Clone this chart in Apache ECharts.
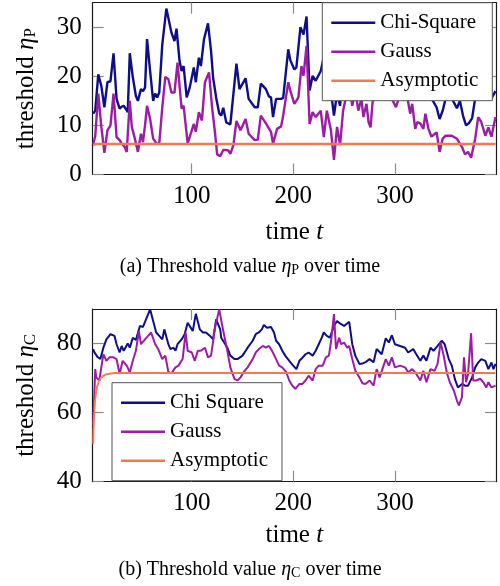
<!DOCTYPE html>
<html><head><meta charset="utf-8">
<script src="https://cdn.jsdelivr.net/npm/echarts@6/dist/echarts.min.js"></script>
<style>html,body{margin:0;padding:0;background:#fff}#c{width:500px;height:586px}</style>
</head><body><div id="c"></div>
<script>
// ---------- data (t, value) ----------
const chiSquareP = [[3,12.4],[5,13],[8,20.4],[11,18],[14,13.7],[17,18.8],[20,19],[23,24.7],[26,15.4],[29,13.4],[31,13.8],[33,14],[35,13.4],[37,12.7],[39,24.7],[42,19.8],[45,16],[47,15],[50,17.4],[52,17],[54,17.7],[56,27.6],[59,21.1],[62,15],[64,16.5],[66,15.7],[68,16.7],[71,26.5],[75,33.8],[77,31.9],[80,28.9],[83,27.2],[85,29.7],[88,23.1],[90,21.1],[92,22.1],[95,15.7],[98,17.7],[102,21.8],[104,18.8],[107,23.8],[109,22.1],[112,27.5],[116,30.8],[119,25.2],[121,19.8],[124,15.7],[127,12.5],[129,12],[131,13.6],[134,10.6],[138,10.2],[144,22.6],[147,17.4],[153,19.6],[156,15.4],[162,13.7],[165,13.7],[168,18.5],[173,17.4],[176,15.9],[178,15.7],[180,11.7],[183,15.4],[188,15.4],[190,15.6],[195,25.5],[197,23.3],[201,21.4],[203,21.8],[207,30],[210,28.5],[213,32.2],[216,17.1],[219,20.1],[222,19.1],[227,21.1],[230,24],[233,25],[237,17],[240,12],[243,16.5],[246,14],[249,21],[252,24],[255,27],[258,22],[261,25],[264,21],[267,23],[269,19],[272,22],[274,18],[276,17],[278,22],[281,25],[284,27],[287,24],[290,29],[293,26],[296,24],[299,22],[301,21],[304,22.5],[306,27],[309,25],[312,23.5],[315,20],[318,22],[320,17],[322,18.5],[325,18],[328,17],[331,19.5],[333,17],[336,15.5],[341,13.7],[344,11.3],[347,13],[349,14.7],[352,17],[356,15.5],[361,13.5],[364,15],[367,12],[370,10],[373,10.5],[376,11.5],[379,15.5],[382,19],[385,18],[389,16],[392,17],[395,15.5],[399,17]];
const gaussP = [[3,6.2],[5,7.8],[8,16.5],[11,9.7],[14,4.4],[17,9],[20,10],[23,16.5],[26,7.6],[29,7],[31,6.3],[34,5.6],[36,4.6],[39,15],[41,9.7],[44,7.3],[47,4.6],[50,8.3],[52,6.6],[54,10],[56,14],[59,11.3],[62,7.3],[65,6.4],[68,6.3],[71,13.7],[74,19.9],[77,19.4],[80,16.7],[83,16.7],[86,22.8],[90,13.4],[92,14],[96,6.3],[99,8.3],[102,10.3],[104,8.7],[107,12.7],[110,11],[113,18.8],[117,20.8],[120,13.7],[123,8.3],[125,4.1],[128,3.7],[131,5],[133,5],[136,4.9],[138,4.2],[141,6],[144,10.9],[148,9],[153,11.3],[156,8.3],[162,7],[165,7.1],[168,12],[173,10.4],[178,8.7],[180,6.3],[184,9.3],[188,9.8],[190,12],[195,18.8],[197,17.1],[201,14.4],[205,15.7],[208,22.1],[210,20.1],[213,26.2],[216,10.3],[219,12.7],[222,11.7],[227,13],[230,7.6],[233,13],[237,9],[240,3],[243,9.7],[246,6],[249,13],[252,16],[255,18.5],[258,14],[261,17],[264,13],[267,15.5],[269,11.7],[272,14.4],[274,10.7],[276,9.6],[278,14.7],[281,17],[284,19.5],[287,16],[290,21],[293,18],[296,16.5],[298,15],[301,13.7],[303,15],[306,19],[309,17.5],[312,16],[315,12.4],[317,14.4],[320,9.3],[322,10.7],[325,10.4],[328,9.3],[330,12.4],[333,9.3],[336,7.7],[341,8.6],[344,4.6],[347,7.3],[350,7.9],[356,7.9],[361,7.3],[366,5.6],[369,4.1],[372,4.6],[375,3.4],[379,7.3],[382,11.7],[385,10.7],[389,7.9],[392,9.6],[395,7.7],[399,11.7]];
const asymptoticP = [[3,5.9],[5,6.2],[399,6.2]];

const chiSquareC = [[3,78.4],[4,77.5],[7,76.2],[10,75.5],[13,78.8],[16,81.2],[20,82.7],[24,82.2],[26,79.8],[29,77.4],[31,79.3],[33,77.9],[37,80],[39,78.8],[42,81.7],[45,81],[49,85.1],[52,84.8],[55,87],[59,89.9],[62,86.5],[65,83.2],[68,82.2],[71,81.2],[73,84.1],[77,79.8],[79,78.4],[82,78.8],[84,77.9],[86,79.8],[90,81.2],[93,82.7],[96,86],[98,85.1],[101,83.6],[104,88.6],[108,84.1],[111,83.2],[114,83.2],[118,82.2],[121,81.2],[124,87],[128,84.1],[129,81.7],[133,79.8],[135,78.8],[138,76.5],[142,75.5],[145,75.5],[150,76.5],[155,78.8],[160,80.8],[163,82.7],[166,83.2],[169,84.1],[171,85.4],[174,84.6],[178,84.8],[181,83.2],[183,80.8],[186,79.8],[189,78],[192,76.5],[196,75],[199,73.9],[203,72.6],[206,75],[209,75.9],[212,76.9],[215,77.4],[219,76.5],[222,77.9],[225,79.8],[228,81.7],[230,83.2],[233,82.2],[236,81.7],[240,85.1],[243,86.5],[247,85.6],[250,85.1],[255,86.3],[258,79.8],[261,76.5],[265,74.1],[268,74.2],[271,74.6],[275,75.5],[279,74.6],[282,78.4],[287,76.9],[291,81.5],[294,80.3],[297,82.4],[300,79.8],[305,79.3],[310,78.8],[313,77.4],[318,78.4],[321,76.9],[325,75],[328,76.5],[331,75],[335,78.8],[338,77.9],[342,79.3],[346,80.8],[349,79.8],[353,75.5],[356,73.6],[359,69.7],[362,67.3],[366,68.3],[369,67.8],[372,67.8],[376,70.2],[379,73.1],[382,74.5],[385,75.5],[389,75],[392,72.6],[395,74.5],[397,72.6],[399,74.1]];
const gaussC = [[3,56.5],[5,72.6],[6,70.2],[9,69.3],[13,76.9],[16,75],[19,76],[23,76],[26,75.5],[29,71.2],[32,75],[36,73.6],[39,71.7],[42,75],[45,77.9],[48,83.6],[50,79.8],[54,81.2],[57,82.2],[60,83.2],[64,79.8],[67,78.4],[71,75.5],[74,76.5],[77,71.7],[80,71.4],[84,73.1],[87,73.6],[91,75.5],[94,83.2],[96,77.9],[100,77.4],[103,75],[106,77.9],[109,77.9],[113,78.8],[116,76],[119,76.5],[123,84.6],[127,89.9],[131,83.7],[135,77.9],[138,73.1],[142,69.8],[145,69.3],[148,70.2],[152,72.1],[155,73.1],[160,75.5],[163,77.4],[166,78.4],[170,79.3],[173,78.8],[176,79.3],[179,77.9],[183,75.5],[186,73.6],[189,73.1],[193,71.7],[196,69.3],[199,67.8],[202,66.9],[206,68.3],[209,68.3],[212,69.3],[215,70.7],[219,69.3],[222,72.6],[225,73.6],[229,73.6],[232,76],[235,76.5],[237,80.3],[240,88.5],[242,78.4],[245,81.7],[247,79.8],[250,80.3],[253,78.8],[255,79.3],[258,75.5],[261,72.1],[265,70.2],[268,68.5],[271,68.3],[275,69.3],[279,67.8],[282,72.6],[285,70.2],[291,75.5],[294,73.6],[297,76],[300,73.1],[305,73.6],[310,73.1],[313,71.7],[317,72.6],[321,71.2],[325,69.3],[328,72.1],[331,68.8],[335,72.6],[339,72.1],[342,74.1],[345,80.3],[348,76.5],[351,71.7],[354,68.8],[358,66.4],[361,63.5],[363,62.1],[366,64.5],[368,76],[370,68.8],[372,71.2],[375,83],[377,69.3],[380,69.3],[384,69.8],[387,68.8],[390,67.3],[392,68.8],[395,67.3],[399,67.8]];
const asymptoticC = [[3,51],[4,60.5],[5,64],[6,66.4],[7,67.8],[9,69.3],[11,70.2],[13,70.7],[16,71.1],[20,71.3],[25,71.5],[399,71.5]];

const xTicks = [100, 200, 300];
const yTicksP = [0, 10, 20, 30];
const yTicksC = [40, 60, 80];
const legendP = ['Chi-Square', 'Gauss', 'Asymptotic'];
const legendC = ['Chi Square', 'Gauss', 'Asymptotic'];

// ---------- styling ----------
const FONT = 'Liberation Serif';
const C_CHI = '#0e0e8a', C_GAUSS = '#9c1ca6', C_ASYM = '#f27a50';
const AXIS_COLOR = '#1a1a1a', TICK_COLOR = '#8c8c8c';

const richSub = {
  it: { fontStyle: 'italic', fontSize: 25, fontFamily: FONT, color: '#000', lineHeight: 25 },
  sub: { fontSize: 17, fontFamily: FONT, color: '#000', lineHeight: 8, verticalAlign: 'bottom' }
};

function xAxes(grid, name, nameGap) {
  return [
    { gridIndex: grid, type: 'value', position: 'bottom', min: 2.5, max: 399.5,
      axisLine: { show: true, onZero: false, lineStyle: { color: AXIS_COLOR, width: 1.2 } },
      axisTick: { show: true, inside: true, length: 11, customValues: xTicks, lineStyle: { color: TICK_COLOR, width: 1.2 } },
      axisLabel: { customValues: xTicks, fontSize: 25, fontFamily: FONT, color: '#000', margin: 9 },
      splitLine: { show: false },
      name: name, nameLocation: 'middle', nameGap: nameGap,
      nameTextStyle: { fontSize: 25, fontFamily: FONT, color: '#000', lineHeight: 25, rich: richSub } },
    { gridIndex: grid, type: 'value', position: 'top', min: 2.5, max: 399.5,
      axisLine: { show: true, onZero: false, lineStyle: { color: AXIS_COLOR, width: 1.2 } },
      axisTick: { show: true, inside: true, length: 11, customValues: xTicks, lineStyle: { color: TICK_COLOR, width: 1.2 } },
      axisLabel: { show: false }, splitLine: { show: false } }
  ];
}
function yAxes(grid, min, max, ticks, name, nameGap) {
  return [
    { gridIndex: grid, type: 'value', position: 'left', min: min, max: max,
      axisLine: { show: true, onZero: false, lineStyle: { color: AXIS_COLOR, width: 1.2 } },
      axisTick: { show: true, inside: true, length: 11, customValues: ticks, lineStyle: { color: TICK_COLOR, width: 1.2 } },
      axisLabel: { customValues: ticks, fontSize: 25, fontFamily: FONT, color: '#000', margin: 11 },
      splitLine: { show: false },
      name: name, nameLocation: 'middle', nameRotate: 90, nameGap: nameGap,
      nameTextStyle: { fontSize: 25, fontFamily: FONT, color: '#000', lineHeight: 25, rich: richSub } },
    { gridIndex: grid, type: 'value', position: 'right', min: min, max: max,
      axisLine: { show: true, onZero: false, lineStyle: { color: AXIS_COLOR, width: 1.2 } },
      axisTick: { show: true, inside: true, length: 11, customValues: ticks, lineStyle: { color: TICK_COLOR, width: 1.2 } },
      axisLabel: { show: false }, splitLine: { show: false } }
  ];
}
function line(name, data, color, xi, yi, width, smooth) {
  return { name: name, type: 'line', data: data, xAxisIndex: xi, yAxisIndex: yi,
    color: color, showSymbol: false, symbol: 'none', smooth: !!smooth,
    smoothMonotone: smooth ? 'x' : undefined,
    lineStyle: { color: color, width: width }, clip: true };
}
function legend(names, left, top) {
  return { data: names, orient: 'vertical', left: left, top: top,
    padding: [9, 14, 9, 9], itemGap: 7, itemWidth: 44, itemHeight: 2.5, icon: 'rect',
    borderColor: '#555', borderWidth: 1, backgroundColor: '#fff',
    selectedMode: false,
    textStyle: { fontSize: 21, fontFamily: FONT, color: '#000', lineHeight: 22 } };
}

const chart = echarts.init(document.getElementById('c'), null, { renderer: 'canvas' });
chart.setOption({
  animation: false,
  backgroundColor: '#fff',
  grid: [
    { left: 92.7, top: 2.7, width: 403.3, height: 171.8 },
    { left: 92.7, top: 309, width: 403.3, height: 172.7 }
  ],
  xAxis: [].concat(xAxes(0, 'time {it|t}', 45), xAxes(1, 'time {it|t}', 41)),
  yAxis: [].concat(yAxes(0, 0, 35, yTicksP, 'threshold {it|η}{sub|P}', 54),
                   yAxes(1, 40, 90, yTicksC, 'threshold {it|η}{sub|C}', 54)),
  legend: [ legend(legendP, 322.3, 2.7), legend(legendC, 112, 382.7) ],
  title: [
    { text: '(a) Threshold value {it|η}{sub|P} over time', left: 'center', top: 257, padding: 0,
      textStyle: { fontSize: 20, fontFamily: FONT, fontWeight: 'normal', color: '#000', lineHeight: 20,
        rich: { it: { fontStyle: 'italic', fontSize: 20, fontFamily: FONT, lineHeight: 20 },
                sub: { fontSize: 14, fontFamily: FONT, lineHeight: 6, verticalAlign: 'bottom' } } } },
    { text: '(b) Threshold value {it|η}{sub|C} over time', left: 'center', top: 560, padding: 0,
      textStyle: { fontSize: 20, fontFamily: FONT, fontWeight: 'normal', color: '#000', lineHeight: 20,
        rich: { it: { fontStyle: 'italic', fontSize: 20, fontFamily: FONT, lineHeight: 20 },
                sub: { fontSize: 14, fontFamily: FONT, lineHeight: 6, verticalAlign: 'bottom' } } } }
  ],
  series: [
    line('Chi-Square', chiSquareP, C_CHI, 0, 0, 2.4),
    line('Gauss', gaussP, C_GAUSS, 0, 0, 2.4),
    line('Asymptotic', asymptoticP, C_ASYM, 0, 0, 2.4),
    line('Chi Square', chiSquareC, C_CHI, 2, 2, 2),
    line('Gauss', gaussC, C_GAUSS, 2, 2, 2),
    line('Asymptotic', asymptoticC, C_ASYM, 2, 2, 2, true)
  ]
});
</script></body></html>
